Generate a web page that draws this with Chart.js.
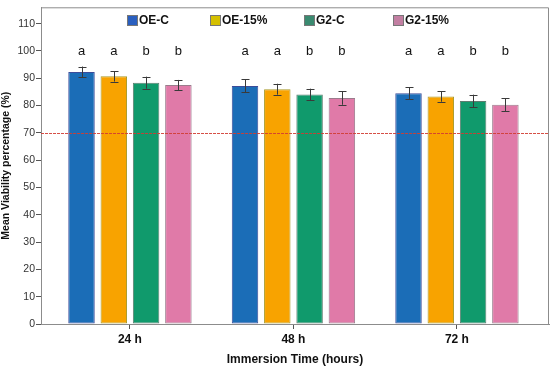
<!DOCTYPE html>
<html>
<head>
<meta charset="utf-8">
<script src="https://cdn.jsdelivr.net/npm/chart.js@4.4.0/dist/chart.umd.min.js"></script>
<style>
  html, body { margin: 0; padding: 0; background: #fff; }
  #wrap { width: 550px; height: 367px; }
</style>
</head>
<body>
<div id="wrap"><canvas id="viabilityChart" width="550" height="367"></canvas></div>
<script>
// categorias (tempo de imersão)
const timeLabels = ['24 h', '48 h', '72 h'];
const seriesNames = ['OE-C', 'OE-15%', 'G2-C', 'G2-15%'];

// médias de viabilidade (%) por série, em 24 h / 48 h / 72 h
const oeC = [92.3, 87.2, 84.5];
const oe15 = [90.7, 86.0, 83.3];
const g2C = [88.4, 84.1, 81.7];
const g215 = [87.5, 82.8, 80.3];

// desvios (barras de erro)
const errOeC = [2.0, 2.4, 2.2];
const errOe15 = [1.9, 2.0, 1.9];
const errG2C = [2.2, 2.1, 2.3];
const errG215 = [1.9, 2.5, 2.4];

// letras de significância
const letters = ['a', 'a', 'b', 'b'];
const letterLevel = 100;
const thresholdLevel = 70;

const yTicks = [0, 10, 20, 30, 40, 50, 60, 70, 80, 90, 100, 110];

const fillColors = ['#1b6db7', '#f8a300', '#109a6c', '#e07aa8'];
const borderColors = ['#3c4c9a', '#a89a2a', '#5d7d70', '#9a7c8c'];
const legendColors = ['#2a5fbf', '#d5c000', '#3a8a70', '#c27fa2'];

const seriesValues = [oeC, oe15, g2C, g215];
const seriesErrors = [errOeC, errOe15, errG2C, errG215];

const datasets = seriesNames.map(function (name, s) {
    return {
        label: name,
        data: seriesValues[s].map((v, i) => ({ x: i, y: v })),
        backgroundColor: fillColors[s],
        borderColor: borderColors[s],
        borderWidth: 1,
        borderSkipped: false,
        categoryPercentage: 0.79,
        barPercentage: 0.82
    };
});

// Plugin: moldura, linha de 70%, barras de erro, letras e legenda
const extrasPlugin = {
    id: 'extras',
    afterDatasetsDraw(chart) {
        const ctx = chart.ctx;
        const area = chart.chartArea;
        const yScale = chart.scales.y;

        // linha pontilhada em 70%
        const yThr = Math.round(yScale.getPixelForValue(thresholdLevel)) + 0.5;
        ctx.save();
        ctx.strokeStyle = 'rgba(210, 60, 50, 0.9)';
        ctx.lineWidth = 1;
        ctx.setLineDash([3, 1]);
        ctx.beginPath();
        ctx.moveTo(area.left, yThr);
        ctx.lineTo(area.right, yThr);
        ctx.stroke();
        ctx.restore();

        // barras de erro e letras
        ctx.save();
        chart.data.datasets.forEach(function (ds, s) {
            const meta = chart.getDatasetMeta(s);
            meta.data.forEach(function (bar, i) {
                const v = seriesValues[s][i];
                const e = seriesErrors[s][i];
                const x = Math.round(bar.x) + 0.5;
                const yTop = yScale.getPixelForValue(v + e);
                const yBot = yScale.getPixelForValue(v - e);
                ctx.strokeStyle = '#3a3a3a';
                ctx.lineWidth = 1;
                ctx.beginPath();
                ctx.moveTo(x, yTop);
                ctx.lineTo(x, yBot);
                ctx.moveTo(x - 4, Math.round(yTop) + 0.5);
                ctx.lineTo(x + 4, Math.round(yTop) + 0.5);
                ctx.moveTo(x - 4, Math.round(yBot) + 0.5);
                ctx.lineTo(x + 4, Math.round(yBot) + 0.5);
                ctx.stroke();

                ctx.fillStyle = '#111';
                ctx.font = '13px "Liberation Sans", Arial, sans-serif';
                ctx.textAlign = 'center';
                ctx.textBaseline = 'middle';
                ctx.fillText(letters[s], bar.x, yScale.getPixelForValue(letterLevel));
            });
        });
        ctx.restore();

        // moldura (topo e direita)
        ctx.save();
        ctx.strokeStyle = '#8c8c8c';
        ctx.lineWidth = 1;
        ctx.beginPath();
        ctx.moveTo(area.left, area.top + 0.5);
        ctx.lineTo(area.right - 0.5, area.top + 0.5);
        ctx.lineTo(area.right - 0.5, area.bottom);
        ctx.stroke();
        ctx.restore();

        // legenda dentro da área
        const legendX = [127, 210, 304, 393];
        ctx.save();
        ctx.font = 'bold 12px "Liberation Sans", Arial, sans-serif';
        ctx.textBaseline = 'middle';
        ctx.textAlign = 'left';
        seriesNames.forEach(function (name, s) {
            const bx = legendX[s];
            ctx.fillStyle = legendColors[s];
            ctx.fillRect(bx, 15, 11, 11);
            ctx.strokeStyle = '#777';
            ctx.strokeRect(bx + 0.5, 15.5, 10, 10);
            ctx.fillStyle = '#111';
            ctx.fillText(name, bx + 12, 21);
        });
        ctx.restore();
    }
};

new Chart(document.getElementById('viabilityChart'), {
    type: 'bar',
    data: { labels: timeLabels, datasets: datasets },
    options: {
        responsive: false,
        animation: false,
        layout: { padding: { top: 3, right: 1, left: 0, bottom: 0 } },
        plugins: {
            legend: { display: false },
            tooltip: { enabled: false }
        },
        scales: {
            x: {
                type: 'linear',
                offset: false,
                min: -0.544,
                max: 2.563,
                afterBuildTicks(scale) {
                    scale.ticks = timeLabels.map((t, i) => ({ value: i }));
                },
                afterFit(scale) { scale.height = 43; },
                ticks: {
                    autoSkip: false,
                    maxRotation: 0,
                    padding: 3,
                    color: '#111',
                    font: { family: '"Liberation Sans", Arial, sans-serif', size: 12, weight: 'bold' },
                    callback: (v) => timeLabels[v] !== undefined ? timeLabels[v] : ''
                },
                grid: { offset: false, drawOnChartArea: false, drawTicks: true, tickLength: 5, color: '#555' },
                border: { display: true, color: '#8c8c8c' },
                title: {
                    display: true,
                    text: 'Immersion Time (hours)',
                    color: '#111',
                    padding: { top: 2, bottom: 0 },
                    font: { family: '"Liberation Sans", Arial, sans-serif', size: 12, weight: 'bold' }
                }
            },
            y: {
                min: 0,
                max: 116,
                afterBuildTicks(scale) {
                    scale.ticks = yTicks.map(v => ({ value: v }));
                },
                afterFit(scale) { scale.width = 41; },
                ticks: {
                    padding: 1,
                    color: '#333',
                    font: { family: '"Liberation Sans", Arial, sans-serif', size: 10.5 }
                },
                grid: { drawOnChartArea: false, drawTicks: true, tickLength: 5, color: '#555' },
                border: { display: true, color: '#8c8c8c' },
                title: {
                    display: true,
                    text: 'Mean Viability percentage (%)',
                    color: '#111',
                    padding: { top: 0, bottom: 0 },
                    font: { family: '"Liberation Sans", Arial, sans-serif', size: 10.5, weight: 'bold' }
                }
            }
        }
    },
    plugins: [extrasPlugin]
});
</script>
</body>
</html>
